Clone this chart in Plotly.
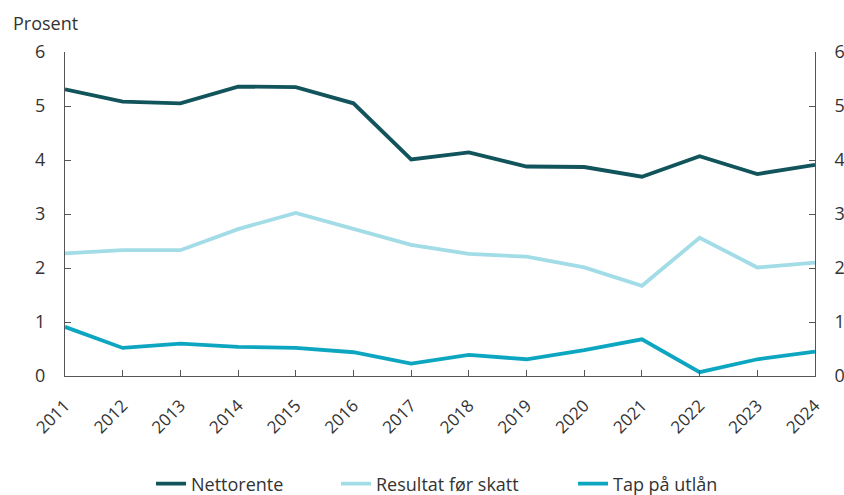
import plotly.graph_objects as go

years = [str(y) for y in range(2011, 2025)]
nettorente = [5.31, 5.08, 5.05, 5.36, 5.35, 5.05, 4.01, 4.14, 3.88, 3.87, 3.69, 4.07, 3.74, 3.91]
resultat = [2.27, 2.33, 2.33, 2.72, 3.02, 2.72, 2.43, 2.26, 2.21, 2.01, 1.67, 2.56, 2.01, 2.10]
tap = [0.91, 0.52, 0.60, 0.54, 0.52, 0.44, 0.23, 0.39, 0.31, 0.48, 0.68, 0.07, 0.31, 0.45]

names = ["Nettorente", "Resultat før skatt", "Tap på utlån"]
colors = ["#12545C", "#A2DCE6", "#0DA6C1"]
legend_ids = ["legend", "legend2", "legend3"]

fig = go.Figure()
for name, vals, col, lg in zip(names, [nettorente, resultat, tap], colors, legend_ids):
    fig.add_trace(go.Scatter(x=years, y=vals, name=name, mode="lines", legend=lg,
                             line=dict(color=col, width=3.8)))
# dummy trace to show the right axis
fig.add_trace(go.Scatter(x=years, y=tap, yaxis="y2", mode="lines",
                         line=dict(width=0), showlegend=False, hoverinfo="skip"))

font_family = "Open Sans, DejaVu Sans, sans-serif"
axis_common = dict(range=[0, 6], dtick=1, ticks="inside", ticklen=6, tickcolor="#555",
                   showline=True, linecolor="#555", linewidth=1, showgrid=False,
                   zeroline=False, tickfont=dict(size=18, color="#333"),
                   ticklabelstandoff=15, automargin=False)

W, H = 844, 495
L, R, T, B = 65, 29, 52, 119
pw, ph = W - L - R, H - T - B

legend_style = dict(orientation="h", xanchor="left", xref="container",
                    y=1 - 484 / H, yanchor="middle", yref="container",
                    font=dict(size=18, color="#333"), bgcolor="rgba(0,0,0,0)")
legend_x = [151, 336, 573]

fig.update_layout(
    width=W, height=H,
    margin=dict(l=L, r=R, t=T, b=B),
    paper_bgcolor="white", plot_bgcolor="white",
    font=dict(family=font_family, color="#333"),
    xaxis=dict(type="category", showline=True, linecolor="#555", linewidth=1,
               ticks="inside", ticklen=6, tickcolor="#555", showgrid=False,
               tickangle=-45, tickfont=dict(size=17, color="#333"),
               ticklabelstandoff=12,
               range=[0, 13], automargin=False),
    yaxis=dict(**axis_common),
    yaxis2=dict(overlaying="y", side="right", **axis_common),
    legend=dict(x=legend_x[0] / W, **legend_style),
    legend2=dict(x=legend_x[1] / W, **legend_style),
    legend3=dict(x=legend_x[2] / W, **legend_style),
    showlegend=True,
    annotations=[dict(text="Prosent", x=(11 - L) / pw, y=(T + ph - 23) / ph,
                      xref="paper", yref="paper", xanchor="left", yanchor="middle",
                      showarrow=False, font=dict(size=18, color="#333"))],
)

fig.write_html("out.html", config={"displayModeBar": False},
               post_script="document.body.style.margin='0';document.body.style.overflow='hidden';")
